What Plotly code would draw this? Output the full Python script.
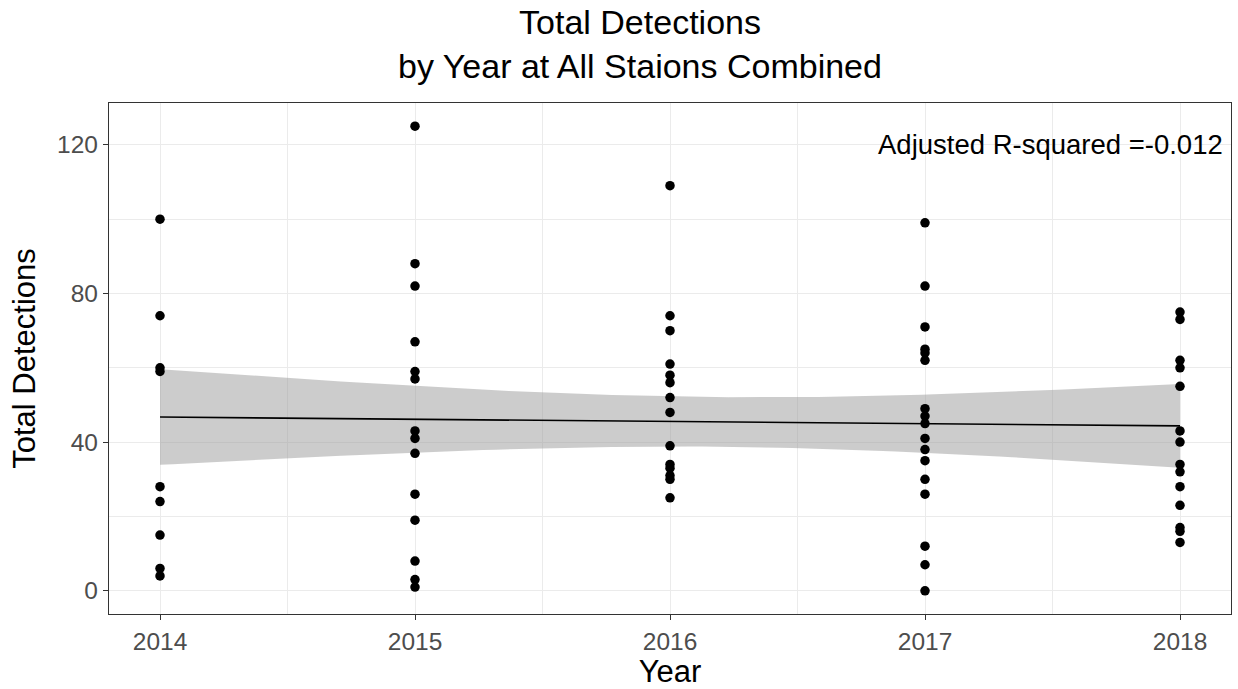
import numpy as np
import plotly.graph_objects as go

years_2014 = [100, 74, 60, 59, 28, 24, 15, 6, 4]
years_2015 = [125, 88, 82, 67, 59, 57, 43, 41, 37, 26, 19, 8, 3, 1]
years_2016 = [109, 74, 70, 61, 58, 56, 52, 48, 39, 34, 33, 31, 30, 25]
years_2017 = [99, 82, 71, 65, 64, 62, 49, 47, 45, 41, 38, 35, 30, 26, 12, 7, 0]
years_2018 = [75, 73, 62, 60, 55, 43, 40, 34, 32, 28, 23, 17, 16, 13]
year_labels = [2014, 2015, 2016, 2017, 2018]
r2_label = "Adjusted R-squared =-0.012"

groups = [years_2014, years_2015, years_2016, years_2017, years_2018]
x = np.concatenate([[yr] * len(g) for yr, g in zip(year_labels, groups)]).astype(float)
y = np.concatenate(groups).astype(float)

# linear fit with 95% confidence band
n = len(x)
b1, b0 = np.polyfit(x, y, 1)
resid = y - (b0 + b1 * x)
s = np.sqrt(np.sum(resid ** 2) / (n - 2))
xbar = x.mean()
sxx = np.sum((x - xbar) ** 2)
t = 1.9939
xg = np.linspace(min(year_labels), max(year_labels), 80)
yg = b0 + b1 * xg
se = s * np.sqrt(1 / n + (xg - xbar) ** 2 / sxx)
lo, hi = yg - t * se, yg + t * se

FONT = "Liberation Sans, Arial, sans-serif"

fig = go.Figure()
fig.add_trace(go.Scatter(x=np.concatenate([xg, xg[::-1]]),
                         y=np.concatenate([hi, lo[::-1]]),
                         fill="toself", fillcolor="rgba(153,153,153,0.5)",
                         line=dict(width=0), mode="lines", showlegend=False,
                         hoverinfo="skip"))
fig.add_trace(go.Scatter(x=xg, y=yg, mode="lines",
                         line=dict(color="black", width=1.6), showlegend=False))
fig.add_trace(go.Scatter(x=x, y=y, mode="markers",
                         marker=dict(color="black", size=9.5), showlegend=False,
                         hoverinfo="x+y"))

fig.add_annotation(x=1, xref="paper", y=120, yref="y", xanchor="right",
                   text=r2_label, showarrow=False, xshift=-6,
                   font=dict(size=27.5, color="black", family=FONT))

axis_common = dict(
    showline=True, linecolor="#333333", linewidth=1.3, mirror=True,
    ticks="outside", ticklen=5, tickwidth=1.3, tickcolor="#333333",
    gridcolor="#ebebeb", gridwidth=1.4, zeroline=False, automargin=False,
    tickfont=dict(size=24.5, color="#4d4d4d", family=FONT),
)
fig.update_xaxes(range=[2013.8, 2018.2], tickmode="array", tickvals=year_labels,
                 ticktext=[str(v) for v in year_labels],
                 minor=dict(tickvals=[2014.5, 2015.5, 2016.5, 2017.5],
                            showgrid=True, gridcolor="#ebebeb", gridwidth=0.7, ticks=""),
                 title=dict(text="Year", font=dict(size=31, color="black", family=FONT), standoff=8),
                 **axis_common)
fig.update_yaxes(range=[-6.25, 131.25], tickmode="array", tickvals=[0, 40, 80, 120],
                 minor=dict(tickvals=[20, 60, 100], showgrid=True,
                            gridcolor="#ebebeb", gridwidth=0.7, ticks=""),
                 title=dict(text="Total Detections", font=dict(size=31, color="black", family=FONT), standoff=12),
                 **axis_common)

fig.update_layout(
    width=1238, height=689,
    margin=dict(l=109, r=7, t=103, b=75, autoexpand=False),
    paper_bgcolor="white", plot_bgcolor="white",
    font=dict(family=FONT),
    title=dict(text="Total Detections<br>by Year at All Staions Combined",
               x=640 / 1238, xanchor="center", xref="container",
               y=1 - 34 / 689, yanchor="top", yref="container",
               font=dict(size=34, color="black", family=FONT), automargin=False),
)

fig.write_html("out.html", config={"displayModeBar": False},
               post_script="document.body.style.margin='0';document.body.style.overflow='hidden';")
